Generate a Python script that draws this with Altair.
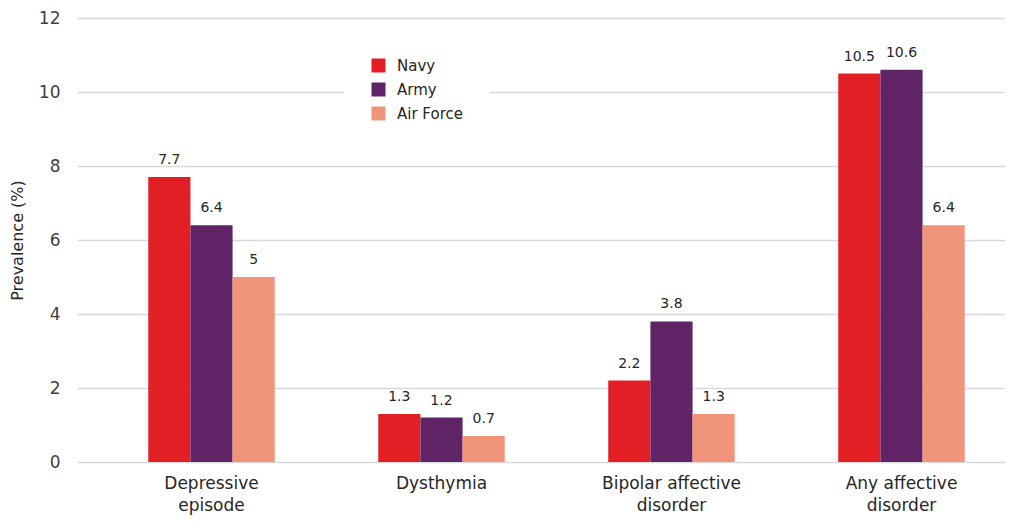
import altair as alt
import pandas as pd

categories = ["Depressive episode", "Dysthymia", "Bipolar affective disorder", "Any affective disorder"]
series = ["Navy", "Army", "Air Force"]
navy = [7.7, 1.3, 2.2, 10.5]
army = [6.4, 1.2, 3.8, 10.6]
air_force = [5, 0.7, 1.3, 6.4]
colors = ["#E31F26", "#5F2366", "#F0957A"]
y_ticks = [0, 2, 4, 6, 8, 10, 12]

rows = []
for name, vals in zip(series, [navy, army, air_force]):
    for c, v in zip(categories, vals):
        rows.append({"Category": c, "Service": name, "Value": v, "Label": f"{v:g}"})
df = pd.DataFrame(rows)

FONT = "DejaVu Sans"

x_enc = alt.X(
    "Category:N",
    sort=categories,
    scale=alt.Scale(paddingInner=0.45, paddingOuter=0.2424, align=0.639),
    axis=alt.Axis(
        title=None,
        labelAngle=0,
        ticks=False,
        domain=False,
        labelFont=FONT,
        labelFontSize=17,
        labelColor="#262626",
        labelPadding=13,
        labelLineHeight=22,
        labelBaseline="top",
        labelExpr="indexof(datum.label,' ') < 0 ? datum.label : [substring(datum.label, 0, lastindexof(datum.label,' ')), substring(datum.label, lastindexof(datum.label,' ')+1)]",
    ),
)
xoff = alt.XOffset("Service:N", sort=series)
y_enc = alt.Y(
    "Value:Q",
    scale=alt.Scale(domain=[0, 12], nice=False),
    axis=alt.Axis(
        title="Prevalence (%)",
        values=y_ticks,
        ticks=False,
        domain=False,
        grid=True,
        gridColor="#D9D9D9",
        gridWidth=1.5,
        labelFont=FONT,
        labelFontSize=17,
        labelColor="#404040",
        labelPadding=17,
        titleFont=FONT,
        titleFontSize=16,
        titleFontWeight="normal",
        titleColor="#262626",
        titlePadding=13,
    ),
)

bars = alt.Chart(df).mark_bar().encode(
    x=x_enc,
    xOffset=xoff,
    y=y_enc,
    color=alt.Color(
        "Service:N",
        sort=series,
        scale=alt.Scale(domain=series, range=colors),
        legend=alt.Legend(
            title=None,
            orient="none",
            legendX=267,
            legendY=13,
            fillColor="white",
            padding=27,
            symbolType="square",
            symbolSize=196,
            symbolStrokeWidth=0,
            symbolOpacity=1,
            labelFont=FONT,
            labelFontSize=15,
            labelColor="#262626",
            labelOffset=11,
            rowPadding=8,
        ),
    ),
)

labels = alt.Chart(df).mark_text(dy=-10, baseline="bottom", font=FONT, fontSize=14, color="#262626").encode(
    x=alt.X("Category:N", sort=categories),
    xOffset=xoff,
    y="Value:Q",
    text="Label:N",
)

chart = (
    alt.layer(bars, labels)
    .properties(
        width=928,
        height=444,
        autosize=alt.AutoSizeParams(type="none"),
        padding={"left": 69, "top": 10, "right": 0, "bottom": 60},
    )
    .configure_view(stroke=None)
)

chart.save("out.html", embed_options={"renderer": "svg", "actions": False})
